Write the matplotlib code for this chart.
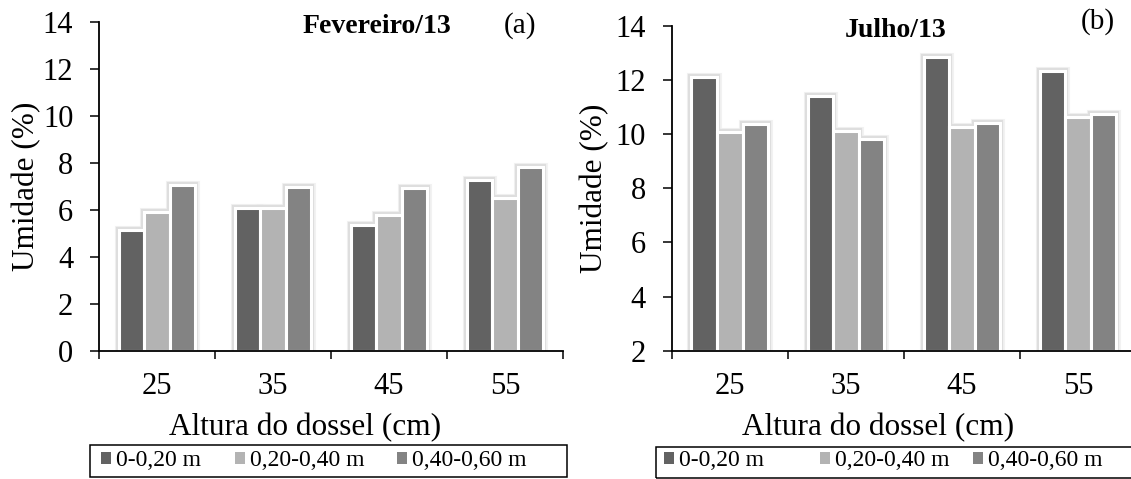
import matplotlib
matplotlib.use("Agg")
import matplotlib.pyplot as plt
import numpy as np
from matplotlib.patches import Patch, Rectangle

plt.rcParams['font.family'] = ['Liberation Serif', 'DejaVu Serif']

categories = ['25', '35', '45', '55']
series_names = ['0-0,20 m', '0,20-0,40 m', '0,40-0,60 m']
colors = ['#626262', '#b3b3b3', '#838383']

# Panel (a) Fevereiro/13
fev_0_20 = [5.15, 6.07, 5.35, 7.25]
fev_20_40 = [5.91, 6.07, 5.77, 6.51]
fev_40_60 = [7.05, 6.95, 6.91, 7.80]

# Panel (b) Julho/13
jul_0_20 = [12.11, 11.40, 12.84, 12.34]
jul_20_40 = [10.08, 10.13, 10.26, 10.64]
jul_40_60 = [10.39, 9.81, 10.41, 10.74]

W, H = 1131, 479
fig = plt.figure(figsize=(W / 100, H / 100), dpi=100)


def px(x, y):
    return x / W, 1 - y / H


def make_panel(rect, series, ylim, yticks, title, title_xy, tag, tag_xy,
               ylab_xy, xlab_xy, leg_xs, leg_box):
    ax = fig.add_axes(rect)
    x = np.arange(len(categories))
    width = 0.22
    offsets = [-width, 0, width]
    base = ylim[0]
    for vals, off, col in zip(series, offsets, colors):
        h = np.array(vals) - base
        # soft shadow halo
        ax.bar(x + off, h, width, bottom=base, facecolor='none',
               edgecolor='0.95', linewidth=6.5, zorder=1)
        ax.bar(x + off, h, width, bottom=base, facecolor='none',
               edgecolor='0.87', linewidth=4.5, zorder=1.5)
        ax.bar(x + off, h, width, bottom=base, color=col,
               edgecolor='white', linewidth=2.2, zorder=2)
    ax.set_xlim(-0.5, len(categories) - 0.5)
    ax.set_ylim(*ylim)
    ax.set_yticks(yticks)
    ax.set_yticklabels([str(t) for t in yticks])
    ax.set_xticks(x)
    ax.set_xticklabels(categories)
    ax.set_xticks(np.arange(-0.5, len(categories)), minor=True)
    for s in ['top', 'right']:
        ax.spines[s].set_visible(False)
    for s in ['left', 'bottom']:
        ax.spines[s].set_linewidth(1.3)
        ax.spines[s].set_zorder(3)
    ax.tick_params(axis='y', direction='out', length=6.5, width=1.1,
                   labelsize=22, pad=12)
    ax.tick_params(axis='x', which='major', length=0, labelsize=22, pad=15)
    ax.tick_params(axis='x', which='minor', direction='out', length=5.5,
                   width=1.1)
    ax.set_facecolor('none')

    fig.text(*px(*title_xy), title, fontsize=20, fontweight='bold',
             ha='center', va='baseline')
    fig.text(*px(*tag_xy), tag, fontsize=21, ha='center', va='baseline')
    fig.text(*px(*ylab_xy), 'Umidade (%)', fontsize=22.5, rotation=90,
             ha='center', va='center')
    fig.text(*px(*xlab_xy), 'Altura do dossel (cm)', fontsize=22.5,
             ha='center', va='center')

    for col, name, lx in zip(colors, series_names, leg_xs):
        fig.legend([Patch(facecolor=col, edgecolor='none')], [name],
                   loc='center left', bbox_to_anchor=px(lx, 461),
                   frameon=False, fontsize=17, handlelength=0.42,
                   handleheight=0.42, handletextpad=0.2, borderpad=0,
                   borderaxespad=0)
    x0, y0, x1, y1 = leg_box
    fig.add_artist(Rectangle(px(x0, y1), (x1 - x0) / W, (y1 - y0) / H,
                             transform=fig.transFigure, facecolor='none',
                             edgecolor='black', linewidth=1.1))
    return ax


ax_a = make_panel(
    [99 / W, 1 - 350.7 / H, (563 - 99) / W, (350.7 - 21.7) / H],
    [fev_0_20, fev_20_40, fev_40_60], (0, 14), list(range(0, 15, 2)),
    'Fevereiro/13', (377, 33), '(a)', (520, 33),
    (27, 186), (305, 428), (101, 235, 397), (90, 445, 567, 477))

ax_b = make_panel(
    [671.7 / W, 1 - 350.7 / H, (1136 - 671.7) / W, (350.7 - 26) / H],
    [jul_0_20, jul_20_40, jul_40_60], (2, 14), list(range(2, 15, 2)),
    'Julho/13', (896, 37), '(b)', (1098, 29),
    (595, 188), (878, 428), (664, 820, 973), (656, 447, 1140, 478))

fig.savefig('out.png', dpi=100)
